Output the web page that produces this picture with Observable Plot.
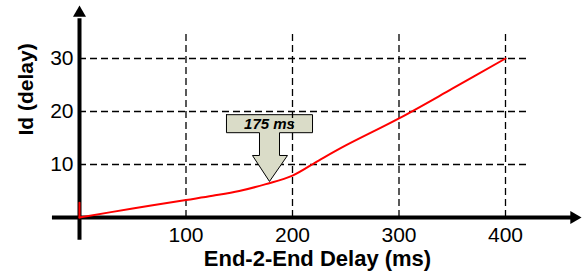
<!DOCTYPE html>
<html>
<head>
<meta charset="utf-8">
<script src="https://cdn.jsdelivr.net/npm/d3@7"></script>
<script src="https://cdn.jsdelivr.net/npm/@observablehq/plot@0.6"></script>
<style>
  html, body { margin: 0; padding: 0; background: white; }
  svg { display: block; }
</style>
</head>
<body>
<div id="chart"></div>
<script>
// Curve data (End-2-End delay in ms vs Id(delay))
const delayMs = [0, 50, 100, 125, 150, 175, 200, 225, 250, 300, 350, 400];
const idDelay = [0, 1.7, 3.3, 4.1, 5.0, 6.3, 7.9, 10.8, 13.6, 18.7, 24.3, 30];
// Initial vertical spike at 0 ms
const spikeX = [0, 0];
const spikeY = [0, 2.8];
// Ticks
const xTicks = [100, 200, 300, 400];
const yTicks = [10, 20, 30];
// Axis extents (data units)
const xAxisExtent = [-25.4, 465];
const yAxisExtent = [-4.3, 37.5];
const gridXEnd = 420.6;
const gridYEnd = 35.1;
// Annotation
const calloutLabel = "175 ms";
const calloutShapeX = [138, 218.8, 218.8, 187.8, 187.8, 195.3, 178.4, 162.4, 169, 169, 138, 138];
const calloutShapeY = [19.4, 19.4, 16.0, 16.0, 11.7, 11.7, 6.8, 11.7, 11.7, 16.0, 16.0, 19.4];
const calloutTextPos = [{x: 178.4, y: 17.7}];
const xLabel = "End-2-End Delay (ms)";
const yLabel = "Id (delay)";

const curve = delayMs.map((d, i) => ({x: d, y: idDelay[i]}));
const spike = spikeX.map((d, i) => ({x: d, y: spikeY[i]}));
const callout = calloutShapeX.map((d, i) => ({x: d, y: calloutShapeY[i]}));

const chart = Plot.plot({
  width: 584,
  height: 277,
  marginLeft: 79,
  marginRight: 79,
  marginTop: 58,
  marginBottom: 60,
  x: {domain: [0, 400], axis: null},
  y: {domain: [0, 30], axis: null},
  style: {fontFamily: "'Liberation Sans', Arial, sans-serif", fontSize: "21px", background: "white", overflow: "visible", color: "black"},
  marks: [
    // horizontal dashed grid
    Plot.ruleY(yTicks, {x1: 0, x2: gridXEnd, stroke: "black", strokeWidth: 1.3, strokeDasharray: "7,4"}),
    // callout arrow
    Plot.line(callout, {x: "x", y: "y", fill: "#dadcc8", stroke: "black", strokeWidth: 1, curve: "linear"}),
    Plot.text(calloutTextPos, {x: "x", y: "y", text: () => calloutLabel, fontSize: 15, fontWeight: "bold", fontStyle: "italic", fill: "black"}),
    // vertical dashed grid
    Plot.ruleX(xTicks, {y1: 0, y2: gridYEnd, stroke: "black", strokeWidth: 1.3, strokeDasharray: "7,4"}),
    // axes
    Plot.ruleY([0], {x1: xAxisExtent[0], x2: xAxisExtent[1], stroke: "black", strokeWidth: 4}),
    Plot.ruleX([0], {y1: yAxisExtent[0], y2: yAxisExtent[1], stroke: "black", strokeWidth: 4}),
    Plot.dot([{x: 0, y: 38.6}], {x: "x", y: "y", symbol: "triangle2", r: 6.2, fill: "black", stroke: null}),
    Plot.dot([{x: 464.4, y: 0}], {x: "x", y: "y", symbol: "triangle2", r: 6.2, fill: "black", stroke: null, rotate: 90}),
    // tick labels
    Plot.axisX(xTicks, {tickSize: 0, tickPadding: 10, fontSize: 21, fill: "black", label: null}),
    Plot.axisY(yTicks, {tickSize: 0, tickPadding: 6, fontSize: 21, fill: "black", label: null}),
    // data curve
    Plot.line(spike, {x: "x", y: "y", stroke: "#ff0000", strokeWidth: 2}),
    Plot.line(curve, {x: "x", y: "y", stroke: "#ff0000", strokeWidth: 2, curve: "catmull-rom"}),
    // axis titles
    Plot.text([xLabel], {frameAnchor: "bottom", text: d => d, dx: 25, dy: 41, fontSize: 22, fontWeight: "bold", fill: "black", lineAnchor: "middle"}),
    Plot.text([yLabel], {frameAnchor: "left", text: d => d, dx: -53, dy: -2.5, rotate: -90, fontSize: 21, fontWeight: "bold", fill: "black", lineAnchor: "middle"})
  ]
});
document.getElementById("chart").appendChild(chart);
</script>
</body>
</html>
